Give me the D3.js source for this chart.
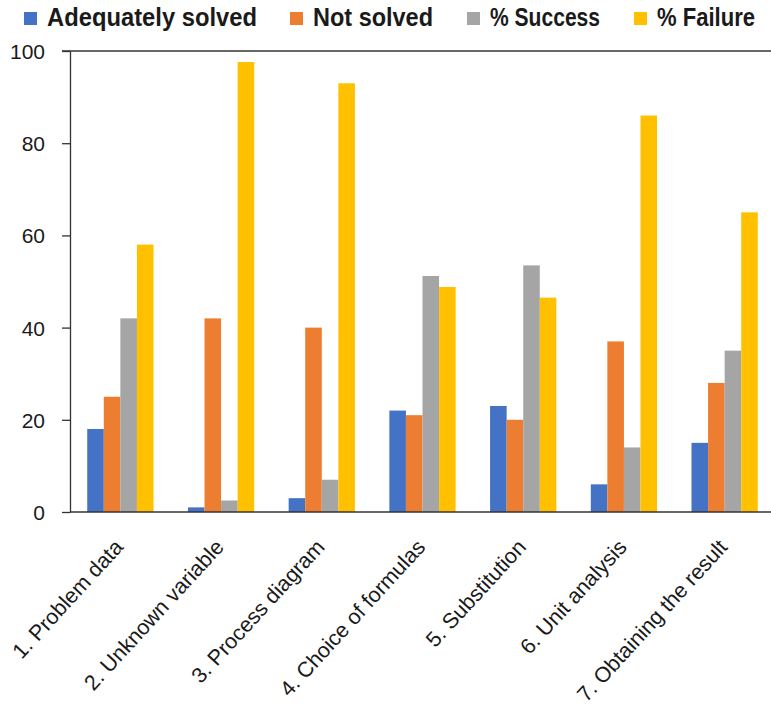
<!DOCTYPE html>
<html>
<head>
<meta charset="utf-8">
<script src="https://cdn.jsdelivr.net/npm/d3@7"></script>
<style>
  body { margin: 0; background: #fff; }
  text { font-family: "Liberation Sans", Arial, sans-serif; fill: #1a1a1a; }
  .legend-label { font-weight: bold; font-size: 25px; }
  .tick-label { font-size: 21px; }
  .cat-label { font-size: 21.5px; }
</style>
</head>
<body>
<div id="chart"></div>
<script>
  // categories and series:
  var categories = [
    "1. Problem data",
    "2. Unknown variable",
    "3. Process diagram",
    "4. Choice of formulas",
    "5. Substitution",
    "6. Unit analysis",
    "7. Obtaining the result"
  ];
  var seriesNames = ["Adequately solved", "Not solved", "% Success", "% Failure"];
  var adequatelySolved = [18, 1, 3, 22, 23, 6, 15];
  var notSolved = [25, 42, 40, 21, 20, 37, 28];
  var pctSuccess = [42, 2.5, 7, 51.2, 53.5, 14, 35];
  var pctFailure = [58, 97.6, 93, 48.8, 46.5, 86, 65];
  var yTicks = [0, 20, 40, 60, 80, 100];

  var colors = ["#4472c4", "#ed7d31", "#a5a5a5", "#ffc000"];
  var seriesValues = [adequatelySolved, notSolved, pctSuccess, pctFailure];

  var width = 771, height = 714;
  var plotLeft = 70, plotRight = 775, plotTop = 51, plotBottom = 512;

  var svg = d3.select("#chart").append("svg")
    .attr("width", width)
    .attr("height", height);

  svg.append("rect")
    .attr("width", width).attr("height", height)
    .attr("fill", "#fff");

  // scales:
  var x0 = d3.scaleBand()
    .domain(categories)
    .range([plotLeft, plotRight])
    .paddingInner(0.342)
    .paddingOuter(0.171);
  var x1 = d3.scaleBand()
    .domain(seriesNames)
    .range([0, x0.bandwidth()]);
  var y = d3.scaleLinear()
    .domain([0, 100])
    .range([plotBottom, plotTop]);

  // top border line at 100:
  svg.append("line")
    .attr("x1", plotLeft - 8).attr("x2", width)
    .attr("y1", y(100)).attr("y2", y(100))
    .attr("stroke", "#333").attr("stroke-width", 1.3);

  // bars:
  var rows = categories.map(function (c, i) {
    return { cat: c, vals: seriesNames.map(function (s, si) {
      return { name: s, value: seriesValues[si][i], color: colors[si] };
    }) };
  });
  var groups = svg.append("g").selectAll("g")
    .data(rows).enter().append("g")
    .attr("transform", function (d) { return "translate(" + x0(d.cat) + ",0)"; });
  groups.selectAll("rect")
    .data(function (d) { return d.vals; })
    .enter().append("rect")
    .attr("x", function (d) { return x1(d.name); })
    .attr("y", function (d) { return y(d.value); })
    .attr("width", x1.bandwidth())
    .attr("height", function (d) { return y(0) - y(d.value); })
    .attr("fill", function (d) { return d.color; });

  // y axis:
  var yAxis = svg.append("g")
    .attr("transform", "translate(" + plotLeft + ",0)")
    .call(d3.axisLeft(y).tickValues(yTicks).tickSize(8).tickPadding(17).tickSizeOuter(0));
  yAxis.attr("font-family", null).attr("font-size", null);
  yAxis.select(".domain").attr("stroke", "#333").attr("stroke-width", 1.3);
  yAxis.selectAll(".tick line").attr("stroke", "#333").attr("stroke-width", 1.3);
  yAxis.selectAll(".tick text")
    .attr("class", "tick-label")
    .attr("fill", "#1a1a1a")
    .attr("dy", "0.36em");

  // x axis line:
  svg.append("line")
    .attr("x1", plotLeft).attr("x2", width)
    .attr("y1", y(0)).attr("y2", y(0))
    .attr("stroke", "#333").attr("stroke-width", 1.3);

  // x labels, rotated:
  svg.append("g").selectAll("text")
    .data(categories).enter().append("text")
    .attr("class", "cat-label")
    .attr("text-anchor", "end")
    .attr("transform", function (d) {
      var cx = x0(d) + x0.bandwidth() / 2 + 4;
      return "translate(" + cx + "," + (plotBottom + 36) + ") rotate(-47.5)";
    })
    .text(function (d) { return d; });

  // legend:
  var legendX = [24, 290, 467, 634];
  var legendW = [210, 120, 110, 98];
  var legend = svg.append("g").selectAll("g")
    .data(seriesNames).enter().append("g")
    .attr("transform", function (d, i) { return "translate(" + legendX[i] + ",0)"; });
  legend.append("rect")
    .attr("x", 0).attr("y", 12)
    .attr("width", 13).attr("height", 13)
    .attr("fill", function (d, i) { return colors[i]; });
  legend.append("text")
    .attr("class", "legend-label")
    .attr("x", 23).attr("y", 26)
    .attr("textLength", function (d, i) { return legendW[i]; })
    .attr("lengthAdjust", "spacingAndGlyphs")
    .text(function (d) { return d; });
</script>
</body>
</html>
